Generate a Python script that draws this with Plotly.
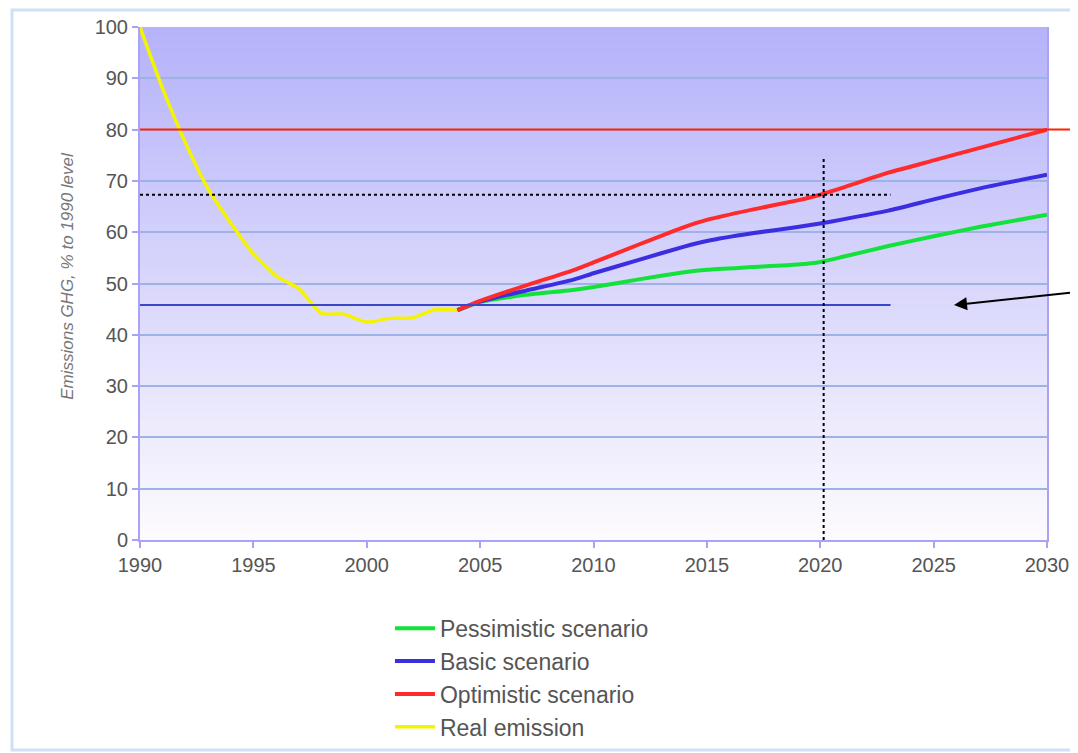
import plotly.graph_objects as go

# ---- data ----
real_years = [1990, 1991, 1992, 1993, 1994, 1995, 1996, 1997, 1998, 1999, 2000, 2001, 2002, 2003, 2004]
real_values = [100, 88, 77.5, 68.5, 61.8, 55.8, 51.5, 49, 44.2, 44.0, 42.5, 43.2, 43.3, 44.9, 44.8]

scen_years = [2004, 2005, 2007, 2009, 2010, 2012, 2014, 2015, 2017, 2019, 2020, 2021, 2023, 2025, 2027, 2030]
optimistic = [44.8, 46.6, 49.6, 52.4, 54.1, 57.6, 61.0, 62.4, 64.4, 66.2, 67.3, 68.7, 71.6, 74.0, 76.4, 80.0]
basic = [44.8, 46.5, 48.6, 50.6, 52.0, 54.6, 57.2, 58.3, 59.8, 61.0, 61.7, 62.5, 64.2, 66.4, 68.5, 71.2]
pessimistic = [44.8, 46.4, 47.8, 48.7, 49.3, 50.8, 52.2, 52.7, 53.2, 53.7, 54.2, 55.2, 57.3, 59.2, 61.0, 63.4]

x_ticks = [1990, 1995, 2000, 2005, 2010, 2015, 2020, 2025, 2030]
y_ticks = [0, 10, 20, 30, 40, 50, 60, 70, 80, 90, 100]

target_red = 80          # horizontal red reference
level_blue = 45.8        # horizontal blue reference
level_dotted = 67.3      # horizontal dotted reference
ref_line_end = 2023.1
year_dotted = 2020.15
dotted_top = 74.6
arrow_target = (2025.9, 45.8)

names = ["Pessimistic scenario", "Basic scenario", "Optimistic scenario", "Real emission"]

# ---- figure ----
fig = go.Figure()
fig.add_trace(go.Scatter(x=real_years, y=real_values, mode="lines", name=names[3],
                         line=dict(color="#f4f400", width=3.5, shape="spline", smoothing=0.6),
                         legendrank=4))
fig.add_trace(go.Scatter(x=scen_years, y=pessimistic, mode="lines", name=names[0],
                         line=dict(color="#12e23a", width=4, shape="spline", smoothing=0.5),
                         legendrank=1))
fig.add_trace(go.Scatter(x=scen_years, y=basic, mode="lines", name=names[1],
                         line=dict(color="#3a2ee0", width=4, shape="spline", smoothing=0.5),
                         legendrank=2))
fig.add_trace(go.Scatter(x=scen_years, y=optimistic, mode="lines", name=names[2],
                         line=dict(color="#ff2a2a", width=4, shape="spline", smoothing=0.5),
                         legendrank=3))

shapes = []
# gradient background bands (overlapping to avoid seams)
top = (181, 178, 250)
bot = (253, 251, 253)
n = 60
for i in range(n):
    t = i / n
    c = tuple(int(round(bot[k] + (top[k] - bot[k]) * (t + 0.5 / n))) for k in range(3))
    shapes.append(dict(type="rect", xref="x", yref="y", x0=1990, x1=2030,
                       y0=100 * i / n, y1=min(100, 100 * (i + 1.6) / n),
                       fillcolor="rgb(%d,%d,%d)" % c, line=dict(width=0), layer="below"))
# outer frame
shapes.append(dict(type="rect", xref="paper", yref="paper", x0=-0.1411, x1=1.06,
                   y0=-0.4094, y1=1.0331, line=dict(color="#cfe0f8", width=3),
                   fillcolor="rgba(0,0,0,0)", layer="below"))
# reference lines
shapes.append(dict(type="line", xref="paper", yref="y", x0=0, x1=1.04,
                   y0=target_red, y1=target_red, line=dict(color="#ff2200", width=2)))
shapes.append(dict(type="line", xref="x", yref="y", x0=1990, x1=ref_line_end,
                   y0=level_blue, y1=level_blue, line=dict(color="#3a48c8", width=2)))
shapes.append(dict(type="line", xref="x", yref="y", x0=1990, x1=ref_line_end,
                   y0=level_dotted, y1=level_dotted, line=dict(color="black", width=2, dash="dot")))
shapes.append(dict(type="line", xref="x", yref="y", x0=year_dotted, x1=year_dotted,
                   y0=0, y1=dotted_top, line=dict(color="black", width=2, dash="dot")))

fig.update_layout(
    width=1070, height=745,
    margin=dict(l=132, r=31, t=19, b=213, autoexpand=False),
    paper_bgcolor="white", plot_bgcolor="white",
    shapes=shapes,
    font=dict(family="Liberation Sans, Arial, sans-serif", color="#555555"),
    legend=dict(x=0.2756, y=-0.13, xanchor="left", yanchor="top",
                font=dict(size=23, color="#555555"), bgcolor="rgba(0,0,0,0)",
                itemwidth=40, tracegroupgap=0),
    showlegend=True,
    annotations=[
        dict(text="Emissions GHG, % to 1990 level", xref="paper", yref="paper",
             x=-0.0794, y=0.515, textangle=-90, showarrow=False,
             font=dict(size=17, color="#777777", style="italic",
                       family="Liberation Sans, Arial, sans-serif"),
             xanchor="center", yanchor="middle"),
        dict(x=arrow_target[0], y=arrow_target[1], xref="x", yref="y",
             ax=122, ay=-13, axref="pixel", ayref="pixel", text="",
             showarrow=True, arrowhead=2, arrowsize=1.3, arrowwidth=2, arrowcolor="black"),
    ],
)
fig.update_xaxes(range=[1990, 2030], tickvals=x_ticks, showgrid=False, zeroline=False,
                 showline=True, linecolor="#aaa2f6", linewidth=2,
                 ticks="outside", ticklen=6, tickwidth=2, tickcolor="#aaa2f6",
                 tickfont=dict(size=20, color="#555555"))
fig.update_yaxes(range=[0, 100], tickvals=y_ticks, showgrid=True, gridcolor="#9fb2e6",
                 gridwidth=2, zeroline=False, showline=True, linecolor="#aaa2f6",
                 linewidth=2, mirror=True,
                 ticks="outside", ticklen=6, tickwidth=2, tickcolor="#aaa2f6",
                 tickfont=dict(size=20, color="#555555"))

fig.write_html("out.html")
